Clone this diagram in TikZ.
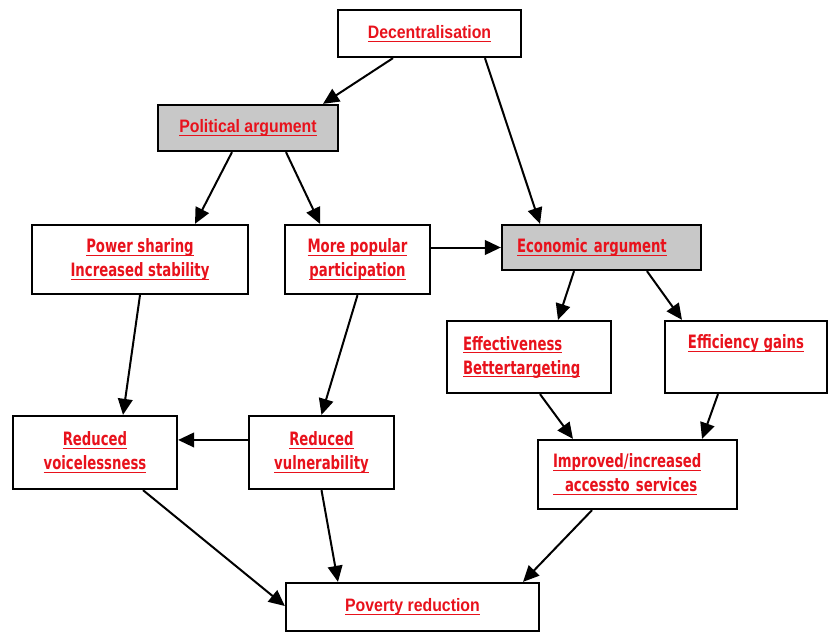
\documentclass[tikz,border=0pt]{standalone}
\usepackage{fontspec}
\usetikzlibrary{arrows.meta}
\newfontfamily\headfont[FakeStretch=0.88]{Liberation Sans}
\newfontfamily\boxfont[FakeStretch=0.72]{DejaVu Sans}
\definecolor{txtred}{RGB}{232,18,28}
\definecolor{argfill}{RGB}{200,200,200}
% underlined text
\newcommand{\uln}[1]{\leavevmode\setbox0\hbox{#1}\rlap{\vrule height -1.6pt depth 2.4pt width \wd0}\box0}
\begin{document}
\begin{tikzpicture}[x=0.75pt,y=-0.75pt,
box/.style={rectangle,draw,line width=1.7pt,inner sep=0pt,align=center,text=txtred,font=\boxfont\bfseries\fontsize{13.8}{18}\selectfont},
head/.style={box,font=\headfont\bfseries\fontsize{13.5}{18}\selectfont},
arg/.style={fill=argfill},
link/.style={line width=1.5pt,-{Triangle[length=12pt,width=11pt]}}]
\useasboundingbox (0,0) rectangle (833,632);
\node [head,minimum width=137.25pt,minimum height=35.25pt] (dec) at (429.5,33.5) {\uln{Decentralisation}};
\node [head,arg,minimum width=135pt,minimum height=34.5pt] (pol) at (248,128) {\uln{Political argument}};
\node [box,minimum width=162pt,minimum height=51.75pt] (pow) at (140,259.5) {\uln{Power sharing}\\\uln{Increased stability}};
\node [box,minimum width=108.75pt,minimum height=51.75pt] (more) at (357.5,259.5) {\uln{More popular}\\\uln{participation}};
\node [box,arg,align=left,text width=126.75pt,inner xsep=11.25pt,minimum height=33.75pt] (econ) at (601.5,247.5) {\uln{Economic argument}};
\node [box,align=left,text width=99pt,inner xsep=12pt,minimum height=54pt] (eff) at (529,357) {\uln{Effectiveness}\\\uln{Bettertargeting}};
\node [box,minimum width=121.5pt,minimum height=54pt] (gain) at (746,357) {\uln{Efficiency gains}\\\strut};
\node [box,minimum width=123pt,minimum height=54.75pt] (voice) at (95,452.5) {\uln{Reduced}\\\uln{voicelessness}};
\node [box,minimum width=108.75pt,minimum height=54.75pt] (vuln) at (321.5,452.5) {\uln{Reduced}\\\uln{vulnerability}};
\node [box,align=left,text width=126.75pt,inner xsep=11.25pt,minimum height=51.75pt] (imp) at (637.5,474.5) {\uln{Improved/increased}\\\uln{\kern9pt accessto services}};
\node [head,minimum width=189.75pt,minimum height=36pt] (pov) at (412.5,607) {\uln{Poverty reduction}};
% arrows
\draw [link] ([xshift=-27.4pt]dec.south) -- ([xshift=56.25pt]pol.north);
\draw [link] ([xshift=41.6pt]dec.south) -- ([xshift=-46.1pt]econ.north);
\draw [link] ([xshift=-12pt]pol.south) -- ([xshift=41.25pt]pow.north);
\draw [link] ([xshift=28.5pt]pol.south) -- ([xshift=-28.1pt]more.north);
\draw [link] (more.east |- econ.west) -- (econ.west);
\draw [link] (pow.south) -- ([xshift=21pt]voice.north);
\draw [link] (more.south) -- (vuln.north);
\draw [link] ([yshift=9.4pt]vuln.west) -- ([yshift=9.4pt]voice.east);
\draw [link] ([xshift=-20.6pt]econ.south) -- ([xshift=21.75pt]eff.north);
\draw [link] ([xshift=34.1pt]econ.south) -- ([xshift=-48pt]gain.north);
\draw [link] ([xshift=8.25pt]eff.south) -- ([xshift=-48.4pt]imp.north);
\draw [link] ([xshift=-21pt]gain.south) -- ([xshift=48.4pt]imp.north);
\draw [link] ([xshift=36pt]voice.south) -- ([yshift=0.75pt]pov.west);
\draw [link] (vuln.south) -- ([xshift=-55.9pt]pov.north);
\draw [link] ([xshift=-34.1pt]imp.south) -- ([xshift=82.9pt]pov.north);
\end{tikzpicture}
\end{document}
